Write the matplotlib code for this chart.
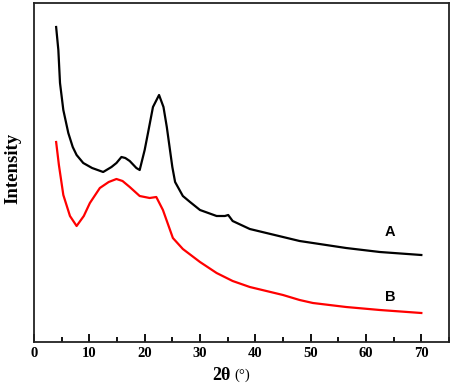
import matplotlib
matplotlib.use('Agg')
import matplotlib.pyplot as plt
import numpy as np
from matplotlib.ticker import MultipleLocator

# XRD patterns (intensity in arbitrary units)
two_theta_A = [4.0, 4.4, 4.7, 5.3, 6.2, 7.0, 7.7, 8.9, 10.5, 12.5, 14.0, 14.9, 15.8,
               16.5, 17.3, 18.5, 19.1, 20.0, 20.6, 21.5, 22.6, 23.4, 24.0, 24.5,
               25.0, 25.5, 26.9, 28.2, 30.0, 33.0, 34.5, 35.1, 35.9, 39.0, 45.0,
               48.0, 50.4, 56.4, 62.5, 70.0]
intensity_A = [315, 292, 259, 232, 209, 195, 187, 179, 174, 170, 175, 179, 185,
               184, 181, 174, 172, 192, 209, 235, 247, 235, 215, 195,
               175, 160, 146, 140, 132, 126, 126, 127, 121, 113, 105,
               101, 99, 94, 90, 87]

two_theta_B = [4.0, 4.5, 5.3, 6.5, 7.7, 9.0, 10.1, 11.9, 13.5, 14.9, 16.0, 17.3,
               19.1, 20.9, 22.1, 23.3, 25.1, 26.9, 30.0, 33.0, 35.9, 39.0, 45.0,
               48.0, 50.4, 56.4, 62.5, 70.0]
intensity_B = [200, 177, 147, 126, 116, 126, 139, 154, 160, 163, 161, 155,
               146, 144, 145, 132, 104, 93, 80, 69, 61, 55, 47,
               42, 39, 35, 32, 29]

labels = ['A', 'B']
label_pos = [(64.4, 110), (64.3, 45)]

fig = plt.figure(figsize=(4.54, 3.89), dpi=100)
ax = fig.add_axes([34/454, 1-342/389, 415/454, 339/389])

ax.plot(two_theta_A, intensity_A, color='black', lw=1.6)
ax.plot(two_theta_B, intensity_B, color='red', lw=1.6)

for lab, (lx, ly) in zip(labels, label_pos):
    ax.text(lx, ly, lab, fontsize=10.5, fontweight='bold', family='Liberation Sans',
            ha='center', va='center')

ax.set_xlim(0, 75)
ax.set_ylim(0, 339)
ax.xaxis.set_major_locator(MultipleLocator(10))
ax.xaxis.set_minor_locator(MultipleLocator(5))
ax.set_xticks(np.arange(0, 71, 10))
ax.tick_params(axis='x', which='major', direction='in', length=6, width=1.3)
ax.tick_params(axis='x', which='minor', direction='in', length=3.5, width=1.3)
ax.tick_params(axis='y', left=False, labelleft=False)
for lab in ax.get_xticklabels():
    lab.set_family('Liberation Serif')
    lab.set_fontweight('bold')
    lab.set_fontsize(10.5)
for sp in ax.spines.values():
    sp.set_linewidth(1.3)
    sp.set_color('#222222')

fig.text(231/454, 1-375/389, '2θ', family='Liberation Serif', fontweight='bold',
         fontsize=13, ha='right', va='center')
fig.text(234/454, 1-375/389, '(°)', family='Liberation Serif',
         fontsize=10.5, ha='left', va='center')
fig.text(13/454, 1-168/389, 'Intensity', family='Liberation Serif', fontweight='bold',
         fontsize=13.5, rotation=90, ha='center', va='center')

plt.savefig('out.png', dpi=100)
